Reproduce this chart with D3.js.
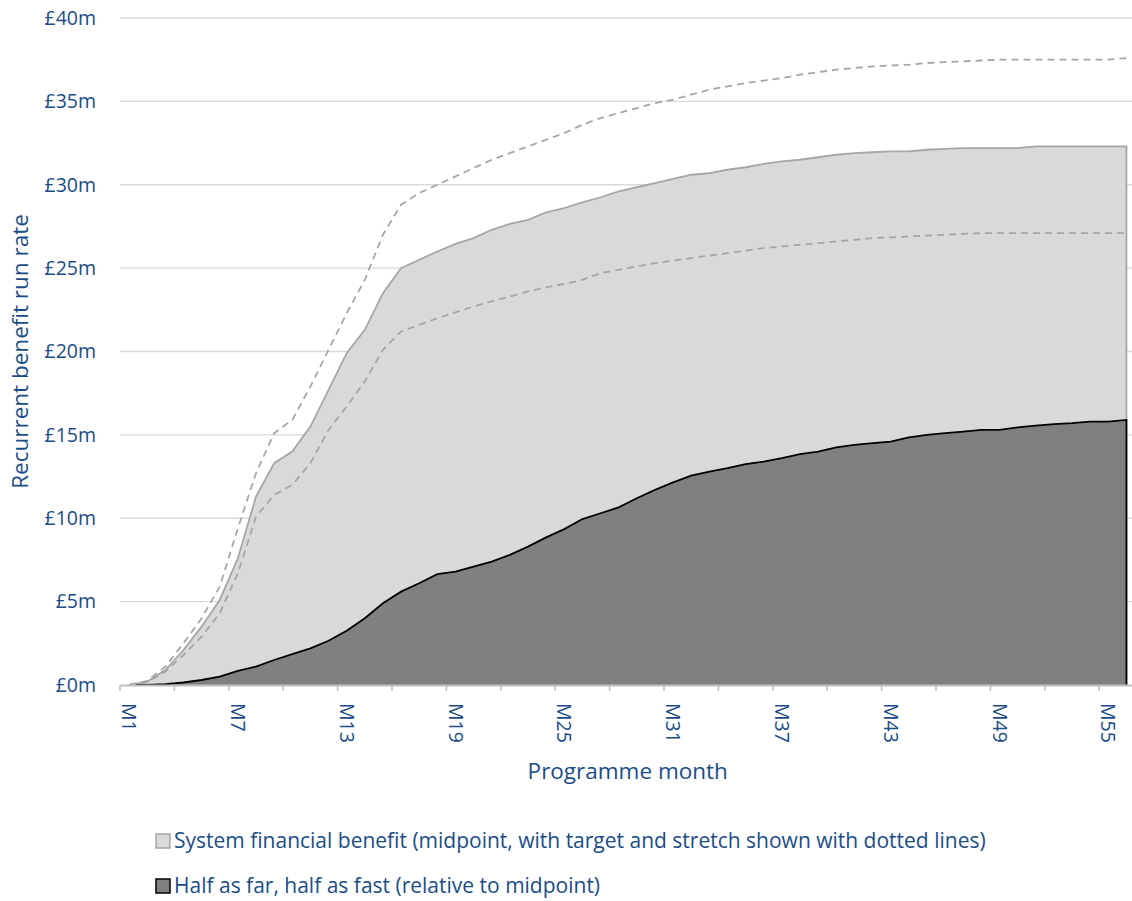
<!DOCTYPE html>
<html>
<head>
<meta charset="utf-8">
<script src="https://cdn.jsdelivr.net/npm/d3@7"></script>
<style>
  html, body { margin: 0; padding: 0; background: #fff; }
  svg { display: block; font-family: 'Open Sans', sans-serif; }
</style>
</head>
<body>
<svg id="chart"></svg>
<script>
// programme months M1..M56
const months = Array.from({ length: 56 }, (_, i) => `M${i + 1}`);

const yTicks = [0, 5, 10, 15, 20, 25, 30, 35, 40];

// £m, midpoint (light grey area)
const midpoint = [
  0, 0.2, 0.9, 2.1, 3.5, 5.1, 7.6, 11.3, 13.3, 14.0,
  15.5, 17.7, 19.9, 21.3, 23.5, 25.0, 25.5, 26.0, 26.45, 26.8,
  27.3, 27.65, 27.9, 28.35, 28.6, 28.95, 29.25, 29.6, 29.85, 30.1,
  30.35, 30.6, 30.7, 30.9, 31.05, 31.25, 31.4, 31.5, 31.65, 31.8,
  31.9, 31.95, 32.0, 32.0, 32.1, 32.15, 32.2, 32.2, 32.2, 32.2,
  32.3, 32.3, 32.3, 32.3, 32.3, 32.3
];

// stretch (upper dotted line)
const stretch = [
  0, 0.25, 1.1, 2.5, 4.0, 5.9, 9.4, 12.7, 15.1, 15.9,
  17.9, 20.1, 22.3, 24.3, 27.0, 28.8, 29.5, 30.0, 30.5, 31.0,
  31.5, 31.9, 32.3, 32.7, 33.1, 33.6, 34.0, 34.3, 34.6, 34.9,
  35.1, 35.4, 35.7, 35.9, 36.1, 36.25, 36.4, 36.6, 36.75, 36.9,
  37.0, 37.1, 37.15, 37.2, 37.3, 37.35, 37.4, 37.45, 37.5, 37.5,
  37.5, 37.5, 37.5, 37.5, 37.5, 37.6
];

// target (lower dotted line)
const target = [
  0, 0.15, 0.8, 1.8, 2.9, 4.3, 6.7, 10.1, 11.4, 12.0,
  13.3, 15.3, 16.7, 18.2, 20.1, 21.2, 21.6, 22.0, 22.35, 22.7,
  23.0, 23.3, 23.6, 23.85, 24.05, 24.3, 24.7, 24.9, 25.1, 25.3,
  25.45, 25.6, 25.75, 25.9, 26.05, 26.2, 26.3, 26.4, 26.5, 26.6,
  26.7, 26.8, 26.85, 26.9, 26.95, 27.0, 27.05, 27.1, 27.1, 27.1,
  27.1, 27.1, 27.1, 27.1, 27.1, 27.1
];

// half as far, half as fast (dark area)
const halfFarFast = [
  0, 0, 0.05, 0.15, 0.3, 0.5, 0.85, 1.1, 1.5, 1.85,
  2.2, 2.65, 3.25, 4.0, 4.9, 5.6, 6.1, 6.65, 6.8, 7.1,
  7.4, 7.8, 8.3, 8.85, 9.35, 9.95, 10.3, 10.65, 11.2, 11.7,
  12.15, 12.55, 12.8, 13.0, 13.25, 13.4, 13.6, 13.85, 14.0, 14.25,
  14.4, 14.5, 14.6, 14.85, 15.0, 15.1, 15.2, 15.3, 15.3, 15.45,
  15.55, 15.65, 15.7, 15.8, 15.8, 15.9
];

const legendLabels = [
  'System financial benefit (midpoint, with target and stretch shown with dotted lines)',
  'Half as far, half as fast (relative to midpoint)'
];

const width = 1132;
const height = 901;
const textColor = '#1c4c86';

const svg = d3.select('#chart')
  .attr('width', width)
  .attr('height', height);

svg.append('rect').attr('width', width).attr('height', height).attr('fill', '#fff');

const x = d3.scaleBand().domain(months).range([120, 1135.5]);
const cx = m => x(m) + x.bandwidth() / 2;
const y = d3.scaleLinear().domain([0, 40]).range([685, 18]);

// gridlines
svg.append('g')
  .selectAll('line')
  .data(yTicks.filter(v => v > 0))
  .join('line')
  .attr('x1', 120)
  .attr('x2', 1135.5)
  .attr('y1', d => y(d))
  .attr('y2', d => y(d))
  .attr('stroke', '#d9d9d9')
  .attr('stroke-width', 1.3);

const area = d3.area()
  .x((d, i) => cx(months[i]))
  .y0(y(0))
  .y1(d => y(d));

// outline: top edge plus the right hand drop to the baseline
const outline = values => {
  const pts = values.map((v, i) => [cx(months[i]), y(v)]);
  pts.push([cx(months[months.length - 1]), y(0)]);
  return d3.line()(pts);
};

svg.append('path')
  .attr('d', area(midpoint))
  .attr('fill', '#d9d9d9');
svg.append('path')
  .attr('d', outline(midpoint))
  .attr('fill', 'none')
  .attr('stroke', '#a6a6a6')
  .attr('stroke-width', 1.8);

svg.append('path')
  .attr('d', area(halfFarFast))
  .attr('fill', '#808080');
svg.append('path')
  .attr('d', outline(halfFarFast))
  .attr('fill', 'none')
  .attr('stroke', '#000')
  .attr('stroke-width', 1.8);

const line = d3.line().x((d, i) => cx(months[i])).y(d => y(d));
[stretch, target].forEach(series => {
  svg.append('path')
    .attr('d', line(series))
    .attr('fill', 'none')
    .attr('stroke', '#a6a6a6')
    .attr('stroke-width', 1.8)
    .attr('stroke-dasharray', '7,5');
});

// x axis
const xAxis = svg.append('g')
  .attr('transform', `translate(0,${y(0)})`)
  .call(d3.axisBottom(x)
    .tickValues(months.filter((m, i) => i % 6 === 0))
    .tickSize(0)
    .tickSizeOuter(0));
xAxis.select('.domain').attr('stroke', '#bfbfbf').attr('stroke-width', 1.8);
xAxis.selectAll('.tick text')
  .attr('transform', 'rotate(90)')
  .attr('x', 18)
  .attr('y', 0)
  .attr('dy', '0.35em')
  .attr('text-anchor', 'start')
  .attr('fill', textColor)
  .style('font-size', '19.5px')
  .style('font-family', "'Open Sans', sans-serif");

// minor tick marks every 3 months, on category boundaries
svg.append('g')
  .selectAll('line')
  .data(months.filter((m, i) => i % 3 === 0))
  .join('line')
  .attr('x1', d => x(d))
  .attr('x2', d => x(d))
  .attr('y1', y(0))
  .attr('y2', y(0) + 6)
  .attr('stroke', '#bfbfbf')
  .attr('stroke-width', 1.5);

// y axis labels
const yAxis = svg.append('g')
  .attr('transform', 'translate(120,0)')
  .call(d3.axisLeft(y)
    .tickValues(yTicks)
    .tickFormat(v => `£${v}m`)
    .tickSize(0)
    .tickPadding(24));
yAxis.select('.domain').remove();
yAxis.selectAll('.tick text')
  .attr('fill', textColor)
  .style('font-size', '19.5px')
  .style('font-family', "'Open Sans', sans-serif");

// axis titles
svg.append('text')
  .attr('x', (120 + 1135.5) / 2)
  .attr('y', 779)
  .attr('text-anchor', 'middle')
  .attr('fill', textColor)
  .style('font-size', '22.5px')
  .text('Programme month');

svg.append('text')
  .attr('transform', `translate(28,${(y(0) + y(40)) / 2}) rotate(-90)`)
  .attr('text-anchor', 'middle')
  .attr('fill', textColor)
  .style('font-size', '22.5px')
  .text('Recurrent benefit run rate');

// legend
const legendFill = ['#d9d9d9', '#808080'];
const legendStroke = ['#a6a6a6', '#000'];
const legend = svg.append('g')
  .selectAll('g')
  .data(legendLabels)
  .join('g')
  .attr('transform', (d, i) => `translate(155,${841 + i * 45})`);
legend.append('rect')
  .attr('x', 1)
  .attr('y', -7)
  .attr('width', 14)
  .attr('height', 14)
  .attr('fill', (d, i) => legendFill[i])
  .attr('stroke', (d, i) => legendStroke[i])
  .attr('stroke-width', 1.5);
legend.append('text')
  .attr('x', 19)
  .attr('dy', '0.35em')
  .attr('fill', textColor)
  .style('font-size', '21px')
  .text(d => d);
</script>
</body>
</html>
